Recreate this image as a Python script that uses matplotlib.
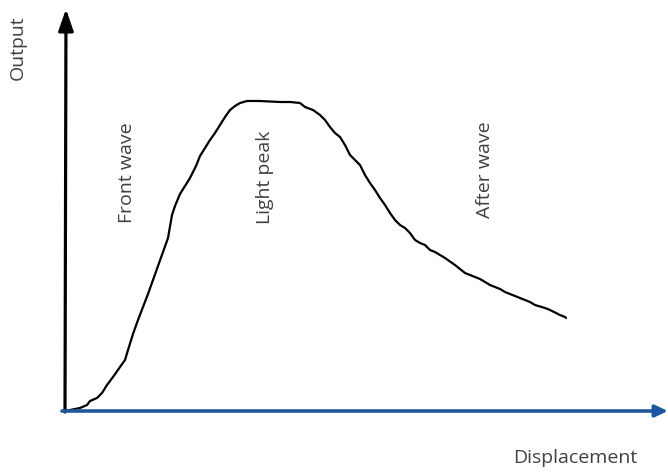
import matplotlib
matplotlib.use("Agg")
import matplotlib.pyplot as plt

# Curve (displacement, output)
displacement = [0, 6, 16, 23, 26, 33, 38, 43, 49, 56, 61, 64, 69, 74, 79, 84, 89, 94, 99, 104,
                108, 111, 116, 121, 126, 132, 136, 141, 146, 151, 156, 161, 166, 171, 176, 183,
                196, 216, 226, 236, 241, 249, 256, 261, 266, 271, 276, 281, 286, 291, 296, 301,
                306, 311, 316, 321, 326, 331, 336, 341, 346, 351, 356, 361, 366, 371, 381, 391,
                401, 406, 416, 426, 436, 441, 451, 461, 466, 471, 481, 486, 496, 501, 502]
output = [0, 1, 3, 6, 10, 13, 18, 26, 34, 44, 51, 61, 77, 91, 104, 117, 131, 145, 159, 173,
          196, 205, 217, 225, 233, 245, 255, 263, 271, 278, 286, 294, 301, 305, 308, 310,
          310, 309, 309, 308, 304, 301, 296, 291, 284, 278, 274, 266, 256, 251, 246, 236,
          228, 221, 213, 206, 198, 191, 186, 183, 178, 171, 168, 166, 161, 159, 153, 146,
          138, 136, 132, 126, 122, 119, 115, 111, 109, 106, 103, 101, 96, 94, 93]

region_labels = ["Front wave", "Light peak", "After wave"]
region_x = [63, 201, 421]
region_y = [238, 234, 241]

x_label = "Displacement"
y_label = "Output"

fig = plt.figure(figsize=(6.68, 4.72), dpi=100)
ax = fig.add_axes([0, 0, 1, 1])
ax.set_xlim(-64, 604)
ax.set_ylim(-61, 411)
ax.axis("off")

font = ["Open Sans", "DejaVu Sans"]
txt_color = "#404040"

# axes arrows
ax.annotate("", xy=(2, 402), xytext=(1, -1),
            arrowprops=dict(arrowstyle="-|>,head_length=1.3,head_width=0.45",
                            color="black", lw=2.3, shrinkA=0, shrinkB=0))
ax.annotate("", xy=(604, 0), xytext=(-2, 0),
            arrowprops=dict(arrowstyle="-|>,head_length=0.75,head_width=0.35",
                            color="#1f56a0", lw=2.6, shrinkA=0, shrinkB=0))

ax.plot(displacement, output, color="black", lw=1.6, solid_capstyle="round")

for lab, x, y in zip(region_labels, region_x, region_y):
    ax.text(x, y, lab, rotation=90, ha="center", va="center",
            fontsize=14, color=txt_color, family=font)

ax.text(-46, 363, y_label, rotation=90, ha="center", va="center",
        fontsize=14, color=txt_color, family=font)
ax.text(511, -47, x_label, ha="center", va="center",
        fontsize=14, color=txt_color, family=font)

fig.savefig("out.png", dpi=100)
